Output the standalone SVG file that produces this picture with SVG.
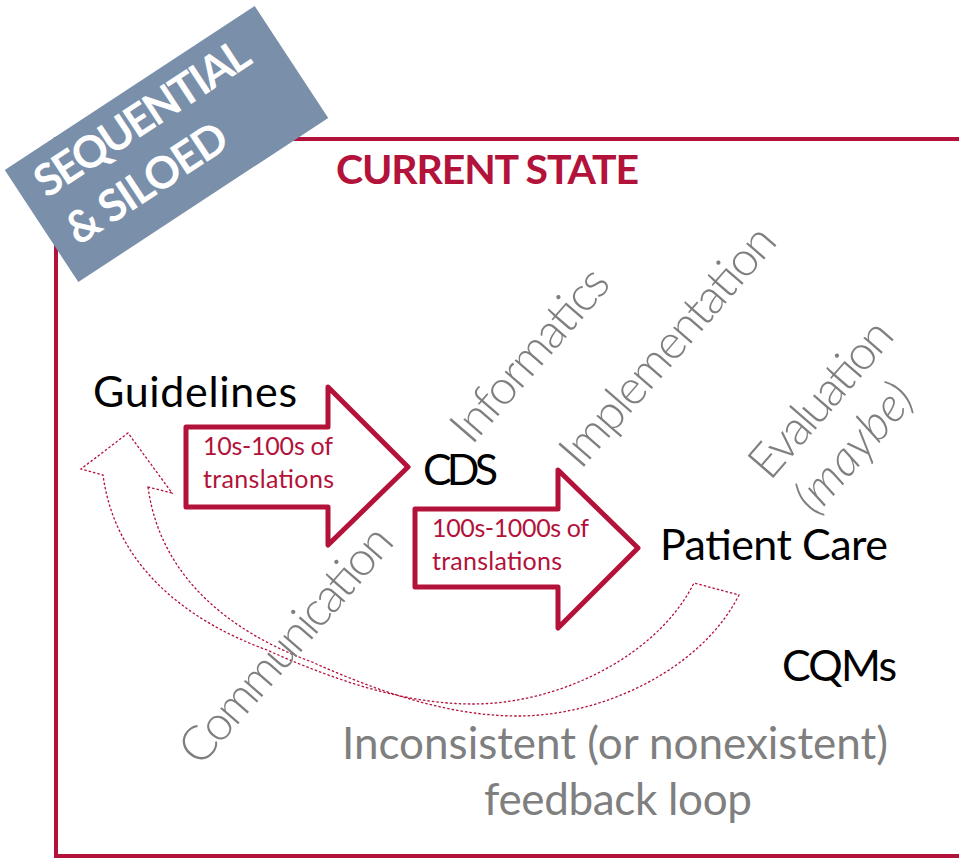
<svg xmlns="http://www.w3.org/2000/svg" width="959" height="858" viewBox="0 0 959 858">
<style>
text{font-family:Lato,"Open Sans","Liberation Sans",sans-serif}
.blk{fill:#000;font-size:43px}
.gry{fill:#7f7f7f;font-size:48px;font-weight:300}
.note{fill:#7f7f7f;font-size:44px}
.inarrow{fill:#b3123a;font-size:25px}
.blockarrow{fill:#fff;stroke:#b3123a;stroke-width:5;stroke-linejoin:round}
.loop{fill:none;stroke:#b3123a;stroke-width:1.3;stroke-dasharray:2.5 2}
</style>
<rect width="959" height="858" fill="#fff"/>
<g id="frame">
<rect x="56" y="139" width="960" height="717" fill="none" stroke="#b3123a" stroke-width="4"/>
</g>
<g id="banner" transform="translate(166.5,144) rotate(-33.3)">
<rect x="-149.5" y="-67" width="299" height="134" fill="#7a8fa9"/>
<text x="-130" y="-20" fill="#fff" font-size="44" font-weight="700" textLength="248">SEQUENTIAL</text>
<text x="-130" y="37" fill="#fff" font-size="44" font-weight="700" textLength="184">&amp; SILOED</text>
</g>
<g id="title">
<text x="336" y="184" fill="#b3123a" font-size="41" font-weight="700" textLength="303">CURRENT STATE</text>
</g>
<g id="connectors">
<g id="arrow-guidelines-cds">
<polygon class="blockarrow" points="186,427 328,427 328,387 408,467 328,545 328,507 186,507"/>
<text class="inarrow" x="203" y="455" textLength="130">10s-100s of</text>
<text class="inarrow" x="203" y="488" textLength="131">translations</text>
</g>
<g id="arrow-cds-patientcare">
<polygon class="blockarrow" points="415,509 558,509 558,470 638,548 558,628 558,587 415,587"/>
<text class="inarrow" x="432" y="537" textLength="157">100s-1000s of</text>
<text class="inarrow" x="432" y="570" textLength="130">translations</text>
</g>
<g id="feedback-loop">
<path class="loop" d="M148,487 C160,577 230,632 312,662 C377,691 447,716 518,716 C602,716 701,670 739,595 L694,583 C656,658 557,704 473,704 C402,704 332,679 267,650 C185,620 115,565 103,475 L81,469 L128,433 L172,493 Z"/>
</g>
</g>
<g id="guidelines"><text class="blk" x="93" y="407" textLength="204">Guidelines</text></g>
<g id="cds"><text class="blk" x="423" y="485" textLength="75">CDS</text></g>
<g id="patient-care"><text class="blk" x="660" y="560" textLength="228">Patient Care</text></g>
<g id="cqms"><text class="blk" x="782" y="681" textLength="115">CQMs</text></g>
<g id="informatics"><text class="gry" transform="translate(529,354) rotate(-49)" text-anchor="middle" dy="0.36em" textLength="214">Informatics</text></g>
<g id="implementation"><text class="gry" transform="translate(669,347) rotate(-49)" text-anchor="middle" dy="0.3em" textLength="302">Implementation</text></g>
<g id="communication"><text class="gry" transform="translate(285,644) rotate(-49)" text-anchor="middle" dy="0.36em" textLength="298">Communication</text></g>
<g id="evaluation">
<text class="gry" transform="translate(820,398) rotate(-49)" text-anchor="middle" dy="0.36em" textLength="192">Evaluation</text>
<text class="gry" transform="translate(855,449) rotate(-49)" text-anchor="middle" dy="0.3em" font-style="italic" textLength="154">(maybe)</text>
</g>
<g id="feedback-note">
<text class="note" x="342" y="759" textLength="546">Inconsistent (or nonexistent)</text>
<text class="note" x="484" y="815" textLength="268">feedback loop</text>
</g>
</svg>
